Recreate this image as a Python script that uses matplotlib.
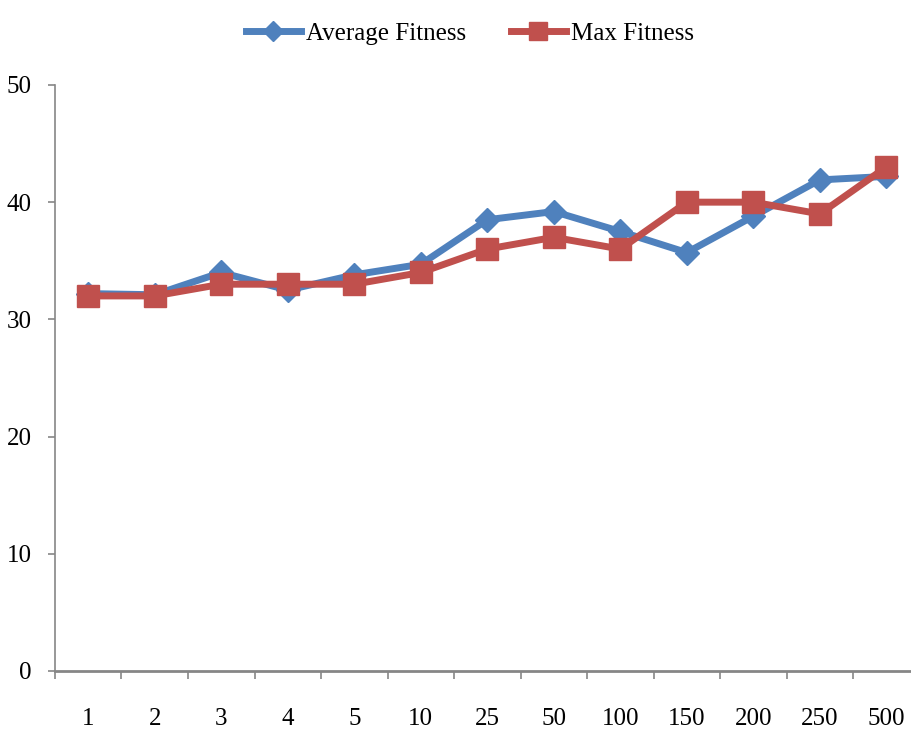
import numpy as np
import matplotlib.pyplot as plt
from matplotlib.ticker import FixedLocator

generations = ["1", "2", "3", "4", "5", "10", "25", "50", "100", "150", "200", "250", "500"]
avg_fitness = [32.2, 32.1, 34.0, 32.5, 33.8, 34.7, 38.5, 39.2, 37.5, 35.7, 38.8, 41.9, 42.2]
max_fitness = [32, 32, 33, 33, 33, 34, 36, 37, 36, 40, 40, 39, 43]

plt.rcParams['font.family'] = ['Liberation Serif', 'DejaVu Serif']

blue = '#4F81BD'
red = '#C0504D'
axis_grey = '#868686'

fig = plt.figure(figsize=(9.12, 7.35), dpi=100)
ax = fig.add_axes([0.0603, 0.0871, 0.948, 0.7973])

x = np.arange(len(generations))
ax.plot(x, avg_fitness, color=blue, lw=5, marker='D', ms=12,
        mec=blue, mfc=blue, label='Average Fitness', solid_joinstyle='round')
ax.plot(x, max_fitness, color=red, lw=5, marker='s', ms=16,
        mec=red, mfc=red, label='Max Fitness', solid_joinstyle='round')

ax.set_xlim(-0.5, len(generations) - 0.5)
ax.set_ylim(0, 50)
ax.set_yticks(np.arange(0, 51, 10))

# category labels centred, tick marks on the boundaries
ax.set_xticks(x)
ax.set_xticklabels(generations)
ax.xaxis.set_minor_locator(FixedLocator(np.arange(-0.5, len(generations), 1.0)))
ax.tick_params(axis='x', which='major', length=0, pad=27, labelsize=18)
ax.tick_params(axis='x', which='minor', length=6, width=1.2, color=axis_grey, direction='out')
ax.tick_params(axis='y', which='major', length=5, width=1.2, color=axis_grey,
               direction='out', pad=12, labelsize=18)

for side in ('top', 'right'):
    ax.spines[side].set_visible(False)
ax.spines['left'].set_color(axis_grey)
ax.spines['left'].set_linewidth(1.2)
ax.spines['bottom'].set_color(axis_grey)
ax.spines['bottom'].set_linewidth(2)

fig.legend(loc='upper center', bbox_to_anchor=(0.515, 1.0), ncol=2, frameon=False,
           fontsize=18, handlelength=2.2, columnspacing=1.8, handletextpad=0.2,
           markerscale=0.85)

fig.savefig('out.png', dpi=100)
